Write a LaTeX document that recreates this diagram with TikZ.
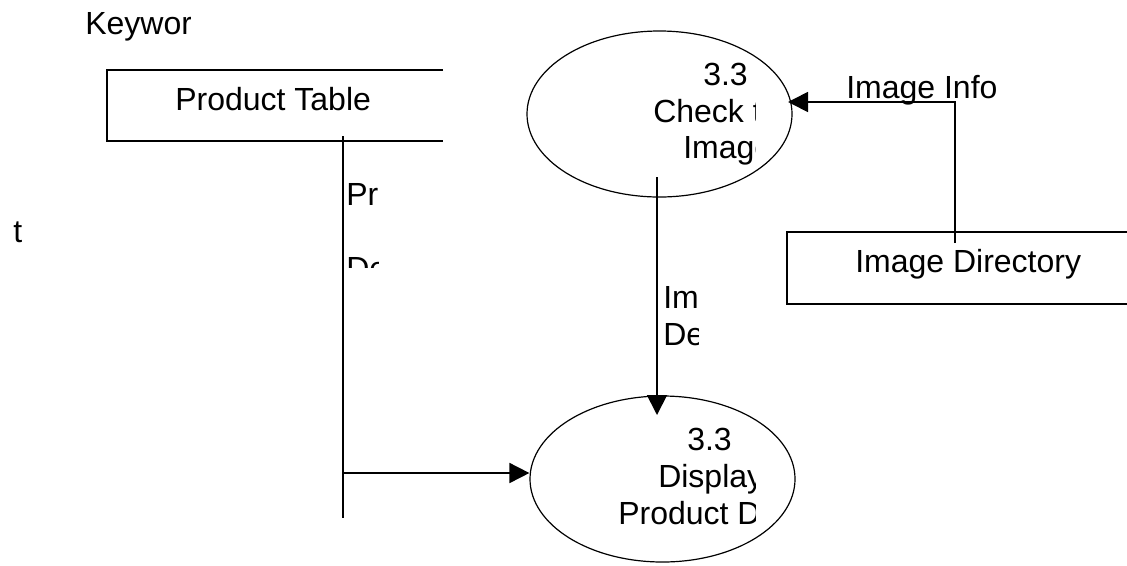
\documentclass[tikz,border=0pt]{standalone}
\usepackage{fontspec}
\setmainfont{Liberation Sans}
\usetikzlibrary{arrows.meta,shapes.geometric}
\begin{document}
\begin{tikzpicture}[x=0.75pt,y=-0.75pt,
  lbl/.style={anchor=base west,inner sep=0pt,font=\fontsize{24}{28}\selectfont},
  line/.style={line width=1.3pt},
  proc/.style={ellipse,draw,line width=0.9pt,minimum width=198.75pt,minimum height=124.5pt,inner sep=0pt},
  flow/.style={line width=1.3pt,-{Triangle[length=15pt,width=15pt]}}]
\useasboundingbox (0,0) rectangle (1127,565);
% processes
\node[proc] (p1) at (659.5,114) {};
\node[proc] (p2) at (662.5,479) {};
% data store: Product Table
\coordinate (ptl) at (107,70);
\coordinate (ptb) at (107,141);
\draw[line] (443,70) -- (ptl) -- (ptb) -- (443,141);
\node[lbl] (pt) at (175,110) {Product Table};
% data store: Image Directory
\draw[line] (1127,232) -- (787,232) -- (787,304) -- (1127,304);
\node[lbl] (id) at (855,272) {Image Directory};
% stray texts
\begin{scope}
\clip (80,0) rectangle (190,60);
\node[lbl] (kw) at (85,34) {Keyword};
\end{scope}
\node[lbl] (t) at (13,242) {t};
% Product Details flow
\coordinate (v1) at (343,136);
\coordinate (v2) at (343,518);
\coordinate (v3) at (343,473);
\draw[line] (v1) -- (v2);
\draw[flow] (v3) -- (v3 -| p2.west);
\begin{scope}
\clip (344,150) rectangle (378,267);
\node[lbl] (pd1) at (346,205) {Product};
\node[lbl] (pd2) at (346,279) {Details};
\end{scope}
% Image Details flow
\coordinate (a1) at (657,177);
\coordinate (a2) at (657,415);
\draw[flow] (a1) -- (a2);
\begin{scope}
\clip (660,260) rectangle (698,360);
\node[lbl] (idt1) at (663,308) {Image};
\node[lbl] (idt2) at (663,345) {Details};
\end{scope}
% Image Info flow
\coordinate (b1) at (955,243);
\coordinate (b2) at (955,102);
\draw[flow] (b1) -- (b2) -- (788,102);
\node[lbl] (ii) at (846,98) {Image Info};
% process texts
\begin{scope}
\clip (600,40) rectangle (755,180);
\node[lbl] (p1a) at (703,85) {3.3};
\node[lbl] (p1b) at (653,122) {Check the};
\node[lbl] (p1c) at (683,158) {Image};
\end{scope}
\begin{scope}
\clip (580,400) rectangle (755,540);
\node[lbl] (p2a) at (687,450) {3.3};
\node[lbl] (p2b) at (658,487) {Display};
\node[lbl] (p2c) at (618,524) {Product Details};
\end{scope}
\end{tikzpicture}
\end{document}
